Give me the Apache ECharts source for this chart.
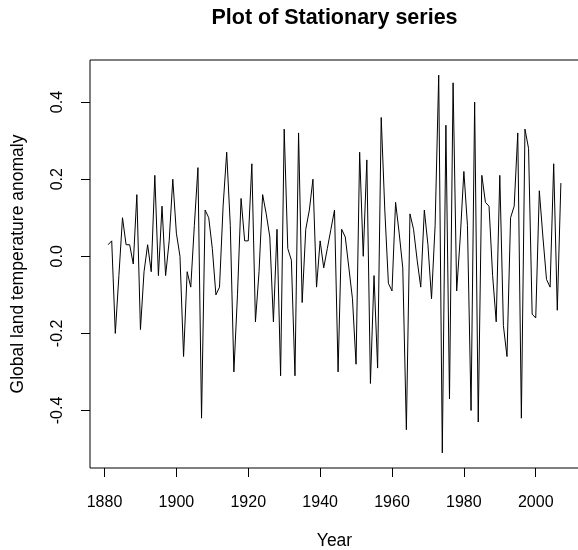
<!DOCTYPE html>
<html>
<head>
<meta charset="utf-8">
<script src="https://cdn.jsdelivr.net/npm/echarts@6/dist/echarts.min.js"></script>
<style>
  html, body { margin: 0; padding: 0; background: #fff; }
  #chart { width: 578px; height: 550px; }
</style>
</head>
<body>
<div id="chart"></div>
<script>
// First-differenced global land temperature anomaly, one value per year
const firstYear = 1881;
const anomalyDiff = [
  0.03, 0.04, -0.20, -0.05, 0.10, 0.03, 0.03, -0.02, 0.16, -0.19,   // 1881-1890
  -0.04, 0.03, -0.04, 0.21, -0.05, 0.13, -0.05, 0.04, 0.20, 0.06,   // 1891-1900
  0.00, -0.26, -0.04, -0.08, 0.08, 0.23, -0.42, 0.12, 0.10, 0.02,   // 1901-1910
  -0.10, -0.08, 0.13, 0.27, 0.08, -0.30, -0.10, 0.15, 0.04, 0.04,   // 1911-1920
  0.24, -0.17, -0.04, 0.16, 0.11, 0.05, -0.17, 0.07, -0.31, 0.33,   // 1921-1930
  0.02, -0.01, -0.31, 0.32, -0.12, 0.07, 0.12, 0.20, -0.08, 0.04,   // 1931-1940
  -0.03, 0.02, 0.07, 0.12, -0.30, 0.07, 0.05, -0.03, -0.11, -0.28,  // 1941-1950
  0.27, 0.00, 0.25, -0.33, -0.05, -0.29, 0.36, 0.12, -0.07, -0.09,  // 1951-1960
  0.14, 0.06, -0.03, -0.45, 0.11, 0.07, -0.01, -0.08, 0.12, 0.03,   // 1961-1970
  -0.11, 0.08, 0.47, -0.51, 0.34, -0.37, 0.45, -0.09, 0.05, 0.22,   // 1971-1980
  0.08, -0.40, 0.40, -0.43, 0.21, 0.14, 0.13, -0.05, -0.17, 0.21,   // 1981-1990
  -0.18, -0.26, 0.10, 0.13, 0.32, -0.42, 0.33, 0.28, -0.15, -0.16,  // 1991-2000
  0.17, 0.05, -0.06, -0.08, 0.24, -0.14, 0.19                       // 2001-2007
];
const xTicks = [1880, 1900, 1920, 1940, 1960, 1980, 2000];
const yTicks = [-0.4, -0.2, 0.0, 0.2, 0.4];

const years = anomalyDiff.map((_, i) => firstYear + i);
const seriesData = years.map((y, i) => [y, anomalyDiff[i]]);

// Axis ranges padded by 4% of the data span on each side
function padRange(lo, hi) {
  const d = (hi - lo) * 0.04;
  return [lo - d, hi + d];
}
const [xMin, xMax] = padRange(years[0], years[years.length - 1]);
const [yMin, yMax] = padRange(Math.min(...anomalyDiff), Math.max(...anomalyDiff));

const FONT = "'Liberation Sans', Arial, sans-serif";
const chart = echarts.init(document.getElementById('chart'), null, { renderer: 'canvas' });

chart.setOption({
  animation: false,
  backgroundColor: '#ffffff',
  textStyle: { fontFamily: FONT, color: '#000' },
  grid: {
    left: 90, top: 60, width: 489, height: 408,
    containLabel: false,
    outerBoundsMode: 'none',
    show: true, borderColor: '#000', borderWidth: 1, backgroundColor: 'transparent'
  },
  graphic: [{
    type: 'text',
    x: 334.5, y: 18,
    style: {
      text: 'Plot of Stationary series',
      font: 'bold 21.5px ' + FONT,
      fill: '#000',
      textAlign: 'center',
      textVerticalAlign: 'middle'
    }
  }],
  xAxis: {
    type: 'value',
    min: xMin, max: xMax,
    axisLine: { show: false, onZero: false },
    splitLine: { show: false },
    axisTick: { show: true, customValues: xTicks, length: 9, lineStyle: { color: '#000', width: 1 } },
    axisLabel: {
      customValues: xTicks, margin: 27, fontSize: 16, color: '#000', fontFamily: FONT,
      formatter: v => String(Math.round(v))
    },
    name: 'Year',
    nameLocation: 'middle',
    nameGap: 64,
    nameTextStyle: { fontSize: 17.5, color: '#000', fontFamily: FONT }
  },
  yAxis: {
    type: 'value',
    min: yMin, max: yMax,
    axisLine: { show: false, onZero: false },
    splitLine: { show: false },
    axisTick: { show: true, customValues: yTicks, length: 9, lineStyle: { color: '#000', width: 1 } },
    axisLabel: {
      customValues: yTicks, margin: 24, rotate: 90, fontSize: 16, color: '#000', fontFamily: FONT,
      formatter: v => (Math.abs(v) < 1e-9 ? 0 : v).toFixed(1)
    },
    name: 'Global land temperature anomaly',
    nameLocation: 'middle',
    nameGap: 63,
    nameTextStyle: { fontSize: 17.5, color: '#000', fontFamily: FONT }
  },
  series: [{
    type: 'line',
    data: seriesData,
    showSymbol: false,
    symbol: 'none',
    lineStyle: { color: '#000', width: 1 },
    clip: true
  }]
});
</script>
</body>
</html>
